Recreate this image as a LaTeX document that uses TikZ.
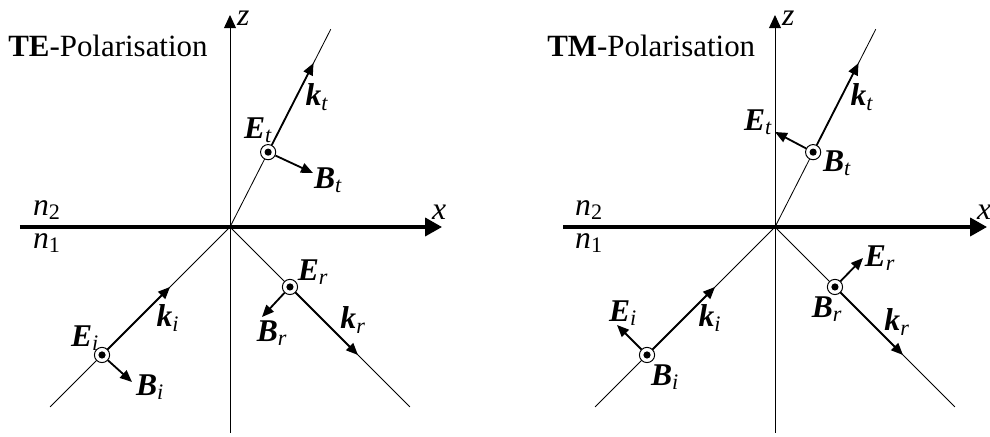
\documentclass[tikz,border=0pt]{standalone}
\usepackage{amsmath}
\usepackage{fontspec}
\setmainfont{Liberation Serif}
\usetikzlibrary{arrows.meta, positioning, calc}

\newcommand{\fvec}[2]{\textbf{\textit{#1}}$_{\textit{#2}}$}
\newcommand{\idx}[1]{\textit{n}$_{\text{#1}}$}

\begin{document}
\begin{tikzpicture}[
    axis/.style={line width=0.7pt, -{Triangle[length=0.33cm, width=0.3cm]}},
    iface/.style={line width=2.4pt, -{Triangle[length=0.42cm, width=0.45cm]}},
    ray/.style={line width=0.6pt},
    vec/.style={line width=1.3pt, -{Triangle[length=0.3cm, width=0.25cm]}},
    dotc/.style={circle, draw, line width=0.7pt, fill=white, inner sep=0pt, minimum size=0.38cm,
        path picture={\fill[black] (path picture bounding box.center) circle (0.09cm);}},
    lab/.style={font=\fontsize{22.5}{27}\selectfont, inner sep=0pt},
    heading/.style={font=\fontsize{22}{26}\selectfont, anchor=base west, inner sep=0pt}
]
\useasboundingbox (-5.75,-5.25) rectangle (19,5.675);

% TE panel
\coordinate (TEO) at (0,0);
\coordinate (TEzbot) at (0,-5.15);
\coordinate (TEztop) at (0,5.3);
\coordinate (TExleft) at (-5.25,0);
\coordinate (TExright) at (5.3,0);
\coordinate (TEin) at (225:6.36);
\coordinate (TEout) at (-45:6.36);
\coordinate (TEtr) at (63:5.55);

\draw [axis] (TEzbot) -- (TEztop);
\draw [iface] (TExleft) -- (TExright);
\draw [ray] (TEin) -- (TEO) -- (TEout);
\draw [ray] (TEO) -- (TEtr);

\node [heading] (TEtitle) at (-5.55,4.25) {\textbf{TE}-Polarisation};
\node [lab] (TEz) at (0.33,5.22) {\textit{z}};
\node [lab] (TEx) at (5.23,0.37) {\textit{x}};
\node [lab] (TEn2) at (-4.58,0.42) {\idx{2}};
\node [lab] (TEn1) at (-4.58,-0.4) {\idx{1}};

% field points
\node [dotc] (TEEi) at (225:4.525) {};
\node [dotc] (TEEr) at (-45:2.12) {};
\node [dotc] (TEEt) at (63:2.1) {};

\coordinate (TEki) at (225:2.12);
\coordinate (TEkr) at (-45:4.525);
\coordinate (TEkt) at (63:4.6);
\coordinate (TEBi) at (-2.45,-3.875);
\coordinate (TEBr) at (0.8,-2.25);
\coordinate (TEBt) at (2.075,1.35);

\draw [vec] (TEEi) -- (TEki);
\draw [vec] (TEEr) -- (TEkr);
\draw [vec] (TEEt) -- (TEkt);
\draw [vec] (TEEi) -- (TEBi);
\draw [vec] (TEEr) -- (TEBr);
\draw [vec] (TEEt) -- (TEBt);

\node [lab] (TEEil) at (-3.625,-2.775) {\fvec{E}{i}};
\node [lab] (TEkil) at (-1.55,-2.275) {\fvec{k}{i}};
\node [lab] (TEBil) at (-2.0,-4.0) {\fvec{B}{i}};
\node [lab] (TEErl) at (2.075,-1.125) {\fvec{E}{r}};
\node [lab] (TEkrl) at (3.075,-2.325) {\fvec{k}{r}};
\node [lab] (TEBrl) at (1.05,-2.65) {\fvec{B}{r}};
\node [lab] (TEEtl) at (0.7,2.425) {\fvec{E}{t}};
\node [lab] (TEktl) at (2.175,3.25) {\fvec{k}{t}};
\node [lab] (TEBtl) at (2.45,1.175) {\fvec{B}{t}};

% TM panel
\begin{scope}[xshift=13.625cm]
\coordinate (TMO) at (0,0);
\coordinate (TMzbot) at (0,-5.15);
\coordinate (TMztop) at (0,5.3);
\coordinate (TMxleft) at (-5.3,0);
\coordinate (TMxright) at (5.3,0);
\coordinate (TMin) at (225:6.36);
\coordinate (TMout) at (-45:6.36);
\coordinate (TMtr) at (63:5.55);

\draw [axis] (TMzbot) -- (TMztop);
\draw [iface] (TMxleft) -- (TMxright);
\draw [ray] (TMin) -- (TMO) -- (TMout);
\draw [ray] (TMO) -- (TMtr);

\node [heading] (TMtitle) at (-5.7,4.25) {\textbf{TM}-Polarisation};
\node [lab] (TMz) at (0.33,5.22) {\textit{z}};
\node [lab] (TMx) at (5.23,0.37) {\textit{x}};
\node [lab] (TMn2) at (-4.65,0.42) {\idx{2}};
\node [lab] (TMn1) at (-4.65,-0.4) {\idx{1}};

% field points
\node [dotc] (TMBi) at (225:4.525) {};
\node [dotc] (TMBr) at (-45:2.12) {};
\node [dotc] (TMBt) at (63:2.1) {};

\coordinate (TMki) at (225:2.12);
\coordinate (TMkr) at (-45:4.525);
\coordinate (TMkt) at (63:4.6);
\coordinate (TMEi) at (-3.95,-2.45);
\coordinate (TMEr) at (2.2,-0.775);
\coordinate (TMEt) at (0,2.375);

\draw [vec] (TMBi) -- (TMki);
\draw [vec] (TMBr) -- (TMkr);
\draw [vec] (TMBt) -- (TMkt);
\draw [vec] (TMBi) -- (TMEi);
\draw [vec] (TMBr) -- (TMEr);
\draw [vec] (TMBt) -- (TMEt);

\node [lab] (TMEil) at (-3.8,-2.15) {\fvec{E}{i}};
\node [lab] (TMkil) at (-1.625,-2.275) {\fvec{k}{i}};
\node [lab] (TMBil) at (-2.75,-3.75) {\fvec{B}{i}};
\node [lab] (TMErl) at (2.625,-0.775) {\fvec{E}{r}};
\node [lab] (TMkrl) at (3.05,-2.375) {\fvec{k}{r}};
\node [lab] (TMBrl) at (1.3,-2.05) {\fvec{B}{r}};
\node [lab] (TMEtl) at (-0.425,2.625) {\fvec{E}{t}};
\node [lab] (TMktl) at (2.175,3.25) {\fvec{k}{t}};
\node [lab] (TMBtl) at (1.55,1.6) {\fvec{B}{t}};
\end{scope}

\end{tikzpicture}
\end{document}
